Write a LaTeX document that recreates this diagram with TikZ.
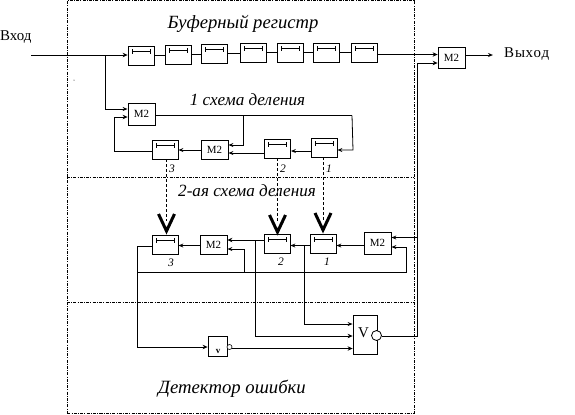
\documentclass[tikz,border=0pt]{standalone}
\usepackage{fontspec}
\setmainfont{Liberation Serif}
\usetikzlibrary{arrows.meta}
\tikzset{
  x=1bp,y=-1bp,
  base/.style={draw,line width=.8bp,inner sep=0pt,font=\fontsize{11}{11}\selectfont},
  regbox/.style={base,minimum width=26bp,minimum height=19bp,path picture={
    \draw[line width=.8bp] ([xshift=-9bp,yshift=4.5bp]path picture bounding box.center) -- ([xshift=9bp,yshift=4.5bp]path picture bounding box.center);
    \draw[line width=.8bp] ([xshift=-9bp,yshift=2bp]path picture bounding box.center) -- ([xshift=-9bp,yshift=7bp]path picture bounding box.center);
    \draw[line width=.8bp] ([xshift=9bp,yshift=2bp]path picture bounding box.center) -- ([xshift=9bp,yshift=7bp]path picture bounding box.center);}},
  sumbox/.style={base,minimum width=27bp,minimum height=21bp},
  wire/.style={line width=.8bp},
  tip/.style={wire,-{Stealth[length=5bp,width=4.5bp]}},
  otip/.style={wire,-{Stealth[open,length=5bp,width=4bp]}},
  framed/.style={line width=.8bp,dash pattern=on 3bp off 1.2bp on 1bp off 1.2bp},
  probe/.style={line width=.8bp,dash pattern=on 3bp off 2bp},
  vee/.style={line width=3bp,miter limit=10},
  title/.style={font=\itshape\fontsize{18.7}{19}\selectfont,inner sep=0pt},
  titleb/.style={font=\itshape\fontsize{17.2}{17}\selectfont,inner sep=0pt},
  num/.style={font=\itshape\fontsize{11.5}{12}\selectfont,inner sep=0pt},
  port/.style={font=\fontsize{15}{15}\selectfont,inner sep=0pt},
}
\begin{document}
\begin{tikzpicture}
\useasboundingbox (0,0) rectangle (575,414);
% frame and dividers
\node[framed,draw,inner sep=0pt,minimum width=346.5bp,minimum height=413bp] (frame) at (240.75,206.5) {};
\draw[framed] (frame.west |- 0,177.5) -- (frame.east |- 0,177.5);
\draw[framed] (frame.west |- 0,302) -- (frame.east |- 0,302);
% titles
\node[title] (t1) at (243,24) {Буферный регистр};
\node[titleb] (t2) at (247.5,100) {1 схема деления};
\node[titleb] (t3) at (247,191) {2-ая схема деления};
\node[title,font=\itshape\fontsize{18.8}{19}\selectfont] (t4) at (232,389) {Детектор ошибки};
\node[port,anchor=west] (inp) at (0,37) {Вход};
\node[port,anchor=west] (outp) at (504,54) {В\kern1bp ы\kern.5bp х\kern.5bp о\kern.5bp д};
\coordinate (inend) at (31,55);
\coordinate (outend) at (493,55);
\fill (74,80) circle (.5bp);
% buffer register
\node[regbox] (b1) at (141,55.5) {};
\node[regbox] (b2) at (178,54.5) {};
\node[regbox] (b3) at (214,53.5) {};
\node[regbox] (b4) at (253,52.5) {};
\node[regbox] (b5) at (290,52.5) {};
\node[regbox] (b6) at (326,52.5) {};
\node[regbox] (b7) at (364.5,52.5) {};
\node[sumbox] (mout) at (451.5,57.5) {М2};
% first divider
\node[sumbox,minimum height=22bp] (m1) at (141.5,114) {М2};
\node[regbox] (a3) at (165,149.5) {};
\node[sumbox,minimum height=19bp] (am) at (214.5,149.5) {М2};
\node[regbox] (a2) at (277.5,148.5) {};
\node[regbox] (a1) at (324,147.5) {};
\node[num] (a3n) at (172,169) {3};
\node[num] (a2n) at (283,169) {2};
\node[num] (a1n) at (329,169) {1};
% second divider
\node[regbox] (c3) at (165,244.5) {};
\node[sumbox,minimum height=19bp] (cm) at (213.5,244.5) {М2};
\node[regbox] (c2) at (277,243.5) {};
\node[regbox] (c1) at (323,243.5) {};
\node[sumbox,minimum height=22bp] (cmr) at (377.5,243) {М2};
\node[num] (c3n) at (171,263) {3};
\node[num] (c2n) at (281,262) {2};
\node[num] (c1n) at (327,262) {1};
% detector
\node[base,minimum width=19bp,minimum height=19.5bp] (vs) at (217.5,346.5) {};
\node[inner sep=0pt,font=\bfseries\fontsize{9}{9}\selectfont] (vst) at (218,351) {v};
\node[base,minimum width=24bp,minimum height=39.5bp] (vb) at (365,335) {};
\node[inner sep=0pt,font=\fontsize{15}{15}\selectfont] (vbt) at (363.5,333) {V};
\node[draw,circle,fill=white,line width=.8bp,minimum size=10bp,inner sep=0pt] (vc) at (376.5,335.5) {};
\node[draw,circle,fill=white,line width=.6bp,minimum size=5bp,inner sep=0pt] (vsc) at (229.5,347) {};
% buffer wires
\draw[tip] (inend) -- (b1.west |- inend);
\draw[wire] (b1.east |- 0,55) -- (b2.west |- 0,55);
\draw[wire] (b2.east |- 0,54) -- (b3.west |- 0,54);
\draw[wire] (b3.east |- 0,53) -- (b4.west |- 0,53);
\draw[wire] (b4.east) -- (b5.west);
\draw[wire] (b5.east) -- (b6.west);
\draw[wire] (b6.east) -- (b7.west);
\draw[tip] (b7.east |- 0,54.5) -- (mout.west |- 0,54.5);
\draw[otip] (mout.east |- 0,55) -- (outend);
% first divider wires
\coordinate (j0) at (105,55);
\draw[otip] (j0) |- (m1.west |- 0,109);
\draw[wire] (m1.east |- 0,115.5) -- (352,115.5) coordinate (fb1);
\draw[otip] (fb1) -- (353,150) -- (a1.east |- 0,150);
\draw[otip] (243,115.5) -- (243,145) -- (am.east |- 0,145);
\draw[otip] (a1.west |- 0,151) -- (a2.east |- 0,151);
\draw[otip] (a2.west |- 0,153) -- (am.east |- 0,153);
\draw[otip] (am.west |- 0,150) -- (a3.east |- 0,150);
\draw[tip] (a3.west |- 0,151.5) -- (114.5,151.5) -- (114.5,117) -- (m1.west |- 0,117);
% probes
\coordinate (v3) at (166.5,231);
\coordinate (v2) at (277.5,232);
\coordinate (v1) at (323,230);
\draw[vee] (158.5,214) -- (v3) -- (174.5,214);
\draw[vee] (269.5,215) -- (v2) -- (285.5,215);
\draw[vee] (315,213) -- (v1) -- (331,213);
\draw[probe] (a3.south -| v3) -- ([yshift=10bp]v3);
\draw[probe] (a2.south -| v2) -- ([yshift=10bp]v2);
\draw[probe] (a1.south -| v1) -- ([yshift=10bp]v1);
% second divider wires
\draw[otip] (cmr.west |- 0,245.5) -- (c1.east |- 0,245.5);
\draw[otip] (c1.west |- 0,245.5) -- (c2.east |- 0,245.5);
\draw[tip] (c2.west |- 0,240) -- (cm.east |- 0,240);
\draw[otip] (cm.west |- 0,245.5) -- (c3.east |- 0,245.5);
% feedback
\draw[otip] (137,272) -- (406.5,272) -- (406.5,247) -- (cmr.east |- 0,247);
\draw[otip] (244.5,272) -- (244.5,249) -- (cm.east |- 0,249);
% detector wires
\draw[otip] (304,245.5) -- (304,324) -- (vb.west |- 0,324);
\draw[tip] (255.5,240) -- (255.5,336) -- (vb.west |- 0,336);
\draw[tip] (c3.west |- 0,246) -- (137,246) -- (137,347) -- (vs.west |- 0,347);
\draw[tip] (vsc.east |- 0,348.5) -- (vb.west |- 0,348.5);
\draw[wire] (vc.east |- 0,336) -- (417.5,336) coordinate (up);
\draw[tip] (up) -- (417.5,63) -- (mout.west |- 0,63);
\draw[otip] (417.5,237.5) -- (cmr.east |- 0,237.5);
\end{tikzpicture}
\end{document}
